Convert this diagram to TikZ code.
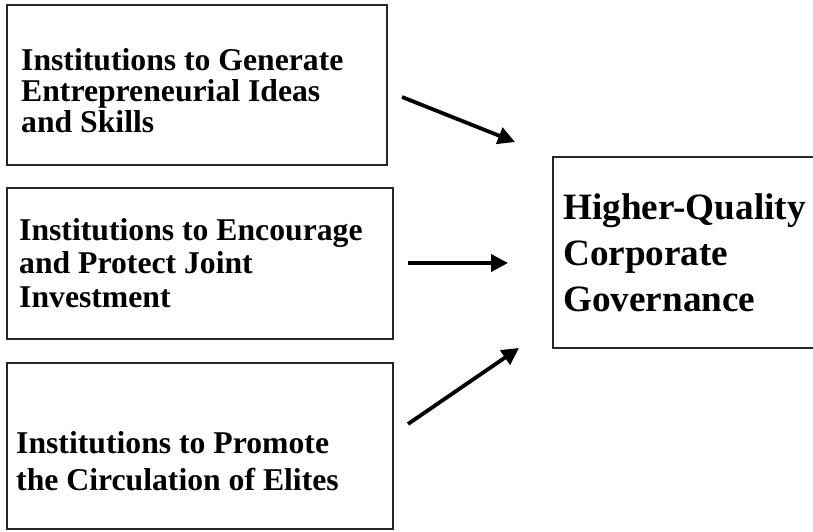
\documentclass[tikz,border=0pt]{standalone}
\usepackage{fontspec}
\setmainfont{Liberation Serif}
\usetikzlibrary{arrows.meta}
\tikzset{
  box/.style={draw=black!85, line width=1.4pt},
  lbl/.style={anchor=base west, inner sep=0pt, font=\bfseries\fontsize{31.7}{32}\selectfont},
  rlbl/.style={anchor=base west, inner sep=0pt, font=\bfseries\fontsize{37.2}{40}\selectfont},
  arr/.style={line width=3.8pt, -{Triangle[length=17pt,width=17pt]}}
}
\begin{document}
\begin{tikzpicture}[x=1pt,y=-1pt]
\useasboundingbox (0,0) rectangle (813,531);
\clip (0,0) rectangle (813,531);
% boxes
\draw[box] (7,5) rectangle (387,165);
\node[inner sep=0] (b1) at (197,85) {};
\draw[box] (7,188) rectangle (393,339);
\node[inner sep=0] (b2) at (200,263) {};
\draw[box] (7,363) rectangle (393,529);
\node[inner sep=0] (b3) at (200,446) {};
\draw[box] (830,157) -- (553,157) -- (553,348) -- (830,348);
\node[inner sep=0] (g) at (690,252) {};
% texts
\node[lbl] (t11) at (21,70) {Institutions to Generate};
\node[lbl] (t12) at (21,101) {Entrepreneurial Ideas};
\node[lbl] (t13) at (21,132) {and Skills};
\node[lbl] (t21) at (19,240) {Institutions to Encourage};
\node[lbl] (t22) at (19,273) {and Protect Joint};
\node[lbl] (t23) at (19,307) {Investment};
\node[lbl] (t31) at (16,453) {Institutions to Promote};
\node[lbl] (t32) at (16,490) {the Circulation of Elites};
\node[rlbl] (g1) at (563,219) {Higher-Quality};
\node[rlbl] (g2) at (563,265) {Corporate};
\node[rlbl] (g3) at (563,311) {Governance};
% arrows
\coordinate (a1s) at (402,97);
\coordinate (a1e) at (515,142);
\coordinate (a2s) at (408,263);
\coordinate (a2e) at (508,263);
\coordinate (a3s) at (408,424);
\coordinate (a3e) at (519,348);
\draw[arr] (a1s) -- (a1e);
\draw[arr] (a2s) -- (a2e);
\draw[arr] (a3s) -- (a3e);
\end{tikzpicture}
\end{document}
